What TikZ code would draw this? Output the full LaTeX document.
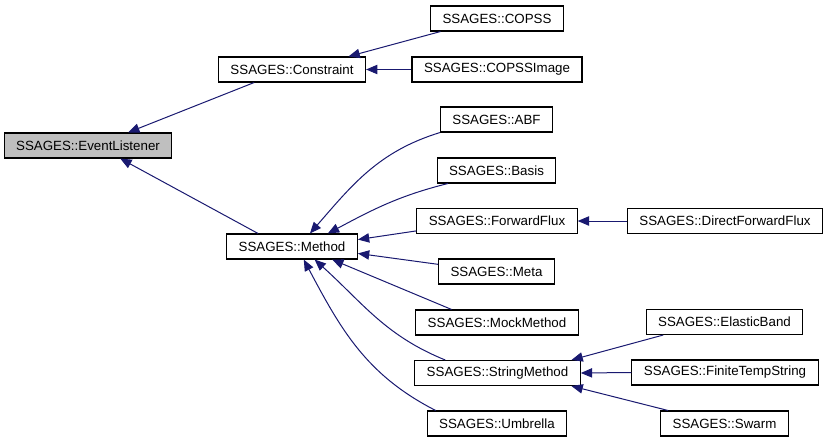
\documentclass[tikz,border=0pt]{standalone}
\usepackage{fontspec}
\setmainfont{Liberation Sans}
\usetikzlibrary{positioning, arrows.meta}

\definecolor{midnightblue}{HTML}{191970}

\begin{document}
\fontsize{10pt}{12pt}\selectfont
\begin{tikzpicture}[x=0.75pt, y=-0.75pt,
    cls/.style={draw, line width=0.8pt, rectangle, align=center, inner xsep=9pt, inner ysep=0pt, minimum height=18.75pt},
    base/.style={cls, fill=black!25},
    edge/.style={{Triangle[length=8.5pt, width=7pt, fill=midnightblue]}-, line width=0.75pt, draw=midnightblue}]
    \useasboundingbox (0, 0) rectangle (827, 443);

    \node (listener) [base] at (88, 145.5) {SSAGES::EventListener};
    \node (constraint) [cls] at (292, 69.5) {SSAGES::Constraint};
    \node (method) [cls] at (292, 246.5) {SSAGES::Method};

    \node (copss) [cls] at (497, 18.5) {SSAGES::COPSS};
    \node (copssimage) [cls] at (497, 69.5) {SSAGES::COPSSImage};
    \node (abf) [cls] at (496.5, 119.5) {SSAGES::ABF};
    \node (basis) [cls] at (496.5, 170.5) {SSAGES::Basis};
    \node (forwardflux) [cls] at (497, 221) {SSAGES::ForwardFlux};
    \node (meta) [cls] at (496.5, 271.5) {SSAGES::Meta};
    \node (mockmethod) [cls] at (497, 322.5) {SSAGES::MockMethod};
    \node (stringmethod) [cls] at (497.5, 373) {SSAGES::StringMethod};
    \node (umbrella) [cls] at (497, 423.5) {SSAGES::Umbrella};

    \node (directff) [cls] at (725, 221) {SSAGES::DirectForwardFlux};
    \node (elasticband) [cls] at (724.5, 322) {SSAGES::ElasticBand};
    \node (finitetemp) [cls] at (725, 372.5) {SSAGES::FiniteTempString};
    \node (swarm) [cls] at (724.5, 423.5) {SSAGES::Swarm};

    % arrows point at the base class
    \draw [edge] (listener.18.7) -- (constraint.199.6);
    \draw [edge] (listener.338.7) -- (method.159.8);

    \draw [edge] (constraint.13.3) -- (copss.193.5);
    \draw [edge] (constraint.east) -- (copssimage.west);

    \draw [edge] (method.36.3) to [out=49, in=197] (abf.193.6);
    \draw [edge] (method.20.2) to [out=28, in=194] (basis.195);
    \draw [edge] (method.6.7) -- (forwardflux.187.2);
    \draw [edge] (method.-6.7) -- (meta.173.5);
    \draw [edge] (method.-18.2) -- (mockmethod.164.5);
    \draw [edge] (method.-30.8) to [out=-42, in=158] (stringmethod.166.6);
    \draw [edge] (method.-48.7) to [out=-62, in=153] (umbrella.168);

    \draw [edge] (forwardflux.east) -- (directff.west);
    \draw [edge] (stringmethod.10.9) -- (elasticband.192.7);
    \draw [edge] (stringmethod.east) -- (finitetemp.west);
    \draw [edge] (stringmethod.-10.9) -- (swarm.167.7);
\end{tikzpicture}
\end{document}
